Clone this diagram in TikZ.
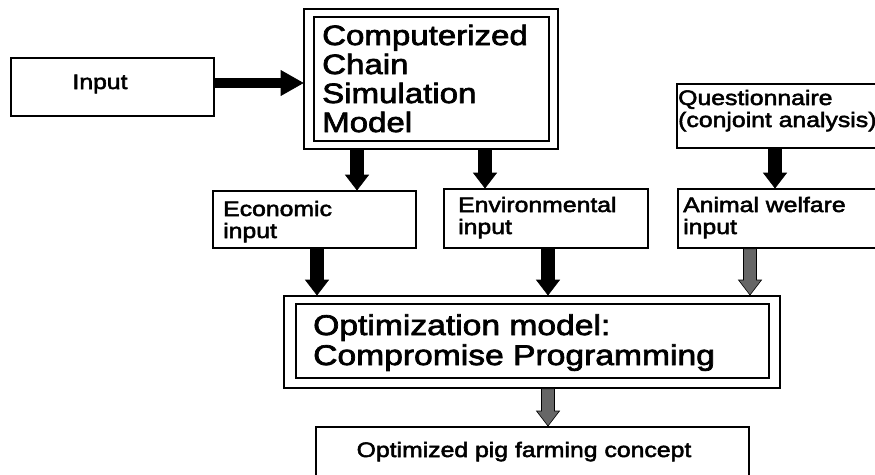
\documentclass[tikz,border=0pt]{standalone}
\usepackage{fontspec}
\setmainfont{Liberation Sans}[FakeStretch=1.18, FakeBold=2.5]
\usetikzlibrary{calc}

% solid block arrow pointing down: #2 start (top), #3 end (tip)
\newcommand\blockdown[3][black]{%
  \filldraw[fill=#1, draw=black, line width=0.6pt] let \p1=(#2), \p2=(#3) in
    (\x1-6.5pt,\y1) -- (\x1+6.5pt,\y1) -- (\x1+6.5pt,\y2+15pt) --
    (\x1+11.5pt,\y2+15pt) -- (\x1,\y2) -- (\x1-11.5pt,\y2+15pt) --
    (\x1-6.5pt,\y2+15pt) -- cycle;}
% solid block arrow pointing right
\newcommand\blockright[3][black]{%
  \filldraw[fill=#1, draw=black, line width=0.6pt] let \p1=(#2), \p2=(#3) in
    (\x1,\y1+4.5pt) -- (\x2-22pt,\y1+4.5pt) -- (\x2-22pt,\y1+12.5pt) --
    (\x2,\y1) -- (\x2-22pt,\y1-12.5pt) -- (\x2-22pt,\y1-4.5pt) --
    (\x1,\y1-4.5pt) -- cycle;}

\tikzset{
  box/.style={draw, line width=1.8pt, inner sep=0pt, anchor=north west},
  lbl/.style={inner sep=0pt, anchor=base west, font=\fontsize{21}{22}\selectfont},
  big/.style={inner sep=0pt, anchor=base west, font=\fontsize{28}{29}\selectfont},
}
\newcommand\twolines[2]{\begin{tabular}[t]{@{}l@{}}#1\\#2\end{tabular}}

\begin{document}
\begin{tikzpicture}[x=1pt, y=-1pt]
  \useasboundingbox (0,0) rectangle (875,474);
  \clip (0,0) rectangle (875,474);

  % boxes
  \node[box, minimum width=203pt, minimum height=58pt] (inp) at (10,57) {};
  \node[box, minimum width=254pt, minimum height=140pt] (ccsm) at (303,8) {};
  \node[box, minimum width=235pt, minimum height=124pt] (ccsmin) at (313,16) {};
  \node[box, minimum width=203pt, minimum height=57pt] (eco) at (212,190) {};
  \node[box, minimum width=204pt, minimum height=59pt] (env) at (443,188) {};
  \node[box, minimum width=210pt, minimum height=59pt] (aw) at (677,188) {};
  \node[box, minimum width=210pt, minimum height=64pt] (qst) at (676,83) {};
  \node[box, minimum width=496pt, minimum height=92pt] (opt) at (283,295) {};
  \node[box, minimum width=473pt, minimum height=74pt] (optin) at (295,303) {};
  \node[box, minimum width=433pt, minimum height=70pt] (fin) at (315,426) {};

  % labels
  \node[lbl, anchor=base] (inp-t) at (100,89) {Input};
  \node[big] (ccsm-t) at (322,45) {\begin{tabular}[t]{@{}l@{}}Computerized\\Chain\\Simulation\\Model\end{tabular}};
  \node[lbl] (eco-t) at (223,216) {\twolines{Economic}{input}};
  \node[lbl] (env-t) at (458,212) {\twolines{Environmental}{input}};
  \node[lbl] (aw-t) at (683,212) {\twolines{Animal welfare}{input}};
  \node[lbl] (qst-t) at (678,105) {\twolines{Questionnaire}{(conjoint analysis)}};
  \node[big, font=\fontsize{28.5}{30}\selectfont] (opt-t) at (313,335) {\twolines{Optimization model:}{Compromise Programming}};
  \node[lbl, anchor=base] (fin-t) at (524,457) {Optimized pig farming concept};

  % arrow guides
  \coordinate (ya) at (0,83);
  \coordinate (xa) at (357,0);
  \coordinate (xb) at (485,0);
  \coordinate (xc) at (775,0);
  \coordinate (xd) at (317,0);
  \coordinate (xe) at (548,0);
  \coordinate (xf) at (750,0);

  % connectors
  \blockright{inp.east |- ya}{ccsm.west |- ya}
  \blockdown{ccsm.south -| xa}{eco.north -| xa}
  \blockdown{ccsm.south -| xb}{env.north -| xb}
  \blockdown{qst.south -| xc}{aw.north -| xc}
  \blockdown{eco.south -| xd}{opt.north -| xd}
  \blockdown{env.south -| xe}{opt.north -| xe}
  \blockdown[black!60]{aw.south -| xf}{opt.north -| xf}
  \blockdown[black!60]{opt.south -| xe}{fin.north -| xe}
\end{tikzpicture}
\end{document}
